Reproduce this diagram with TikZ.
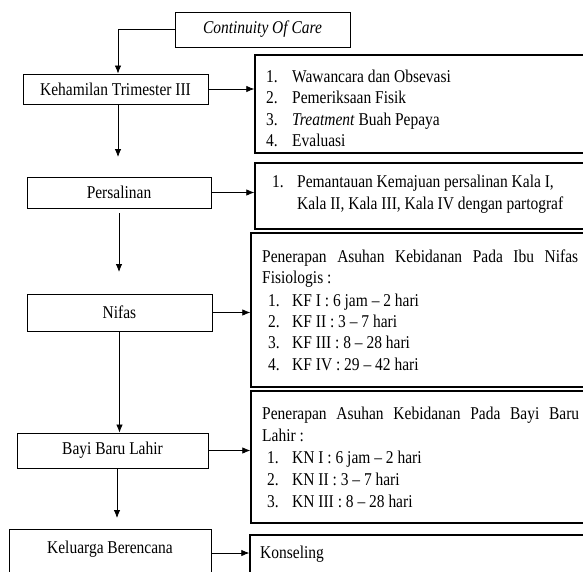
\documentclass[tikz,border=0pt]{standalone}
\usepackage{fontspec}
\setmainfont[FakeStretch=0.86]{Liberation Serif}
\usetikzlibrary{arrows.meta,calc}
\newcommand\myfs{\fontsize{18}{21}\selectfont}
\begin{document}
\begin{tikzpicture}[x=1pt,y=-1pt,
  lbox/.style={draw, line width=0.9pt, inner sep=0pt, font=\myfs},
  rbox/.style={draw, line width=1.4pt, inner sep=0pt},
  txt/.style={anchor=base west, inner sep=0pt, font=\myfs},
  arr/.style={line width=0.8pt, -{Latex[length=8pt,width=6.5pt]}}]
\useasboundingbox (0,0) rectangle (583,571);
\clip (0,0) rectangle (583,571);
% left column
\node[lbox, minimum width=175pt, minimum height=35pt] (coc) at (262.5,29.5) {\textit{Continuity Of Care}};
\node[lbox, minimum width=185pt, minimum height=30pt] (keh) at (115.5,89) {Kehamilan Trimester III};
\node[lbox, minimum width=184pt, minimum height=31pt] (per) at (119,192.5) {Persalinan};
\node[lbox, minimum width=185pt, minimum height=37pt] (nif) at (119.5,312.5) {Nifas};
\node[lbox, minimum width=191pt, minimum height=35pt] (bbl) at (112.5,450.5) {Bayi Baru Lahir};
\node[lbox, minimum width=202pt, minimum height=70pt] (kb) at (110,564) {};
\node[inner sep=0pt, font=\myfs] (kbt) at (110,549) {Keluarga Berencana};
% right boxes
\node[rbox, minimum width=345pt, minimum height=98pt] (r1) at (427.5,104) {};
\node[rbox, minimum width=345pt, minimum height=66pt] (r2) at (427.5,196) {};
\node[rbox, minimum width=349pt, minimum height=154pt] (r3) at (425.5,310) {};
\node[rbox, minimum width=349pt, minimum height=132pt] (r4) at (425.5,457) {};
\node[rbox, minimum width=350pt, minimum height=75pt] (r5) at (425,572.5) {};
% box 1 text
\node[txt] (a1n) at (266,82) {1.};
\node[txt] (a1) at (292,82) {Wawancara dan Obsevasi};
\node[txt] (a2n) at (266,103.5) {2.};
\node[txt] (a2) at (292,103.5) {Pemeriksaan Fisik};
\node[txt] (a3n) at (266,125) {3.};
\node[txt] (a3) at (292,125) {\textit{Treatment} Buah Pepaya};
\node[txt] (a4n) at (266,146) {4.};
\node[txt] (a4) at (292,146) {Evaluasi};
% box 2 text
\node[txt] (b1n) at (272,187) {1.};
\node[txt] (b1) at (297,187) {Pemantauan Kemajuan persalinan Kala I,};
\node[txt] (b2) at (297,209) {Kala II, Kala III, Kala IV dengan partograf};
% box 3 text
\node[txt] (c0) at (262,262) {\makebox[316pt][s]{Penerapan Asuhan Kebidanan Pada Ibu Nifas}};
\node[txt] (c0b) at (262,283.5) {Fisiologis :};
\node[txt] (c1n) at (268,306) {1.};
\node[txt] (c1) at (292,306) {KF I : 6 jam -- 2 hari};
\node[txt] (c2n) at (268,327) {2.};
\node[txt] (c2) at (292,327) {KF II : 3 -- 7 hari};
\node[txt] (c3n) at (268,348.5) {3.};
\node[txt] (c3) at (292,348.5) {KF III : 8 -- 28 hari};
\node[txt] (c4n) at (268,370) {4.};
\node[txt] (c4) at (292,370) {KF IV : 29 -- 42 hari};
% box 4 text
\node[txt] (d0) at (262,419) {\makebox[317pt][s]{Penerapan Asuhan Kebidanan Pada Bayi Baru}};
\node[txt] (d0b) at (262,441) {Lahir :};
\node[txt] (d1n) at (267,463) {1.};
\node[txt] (d1) at (292,463) {KN I : 6 jam -- 2 hari};
\node[txt] (d2n) at (267,485) {2.};
\node[txt] (d2) at (292,485) {KN II : 3 -- 7 hari};
\node[txt] (d3n) at (267,507) {3.};
\node[txt] (d3) at (292,507) {KN III : 8 -- 28 hari};
% box 5 text
\node[txt] (e1) at (260,558) {Konseling};
% connectors
\draw[arr] (coc.west) -| ([xshift=2.5pt]keh.north);
\coordinate (t1) at (118,157);
\draw[arr] ([xshift=2.5pt]keh.south) -- (t1);
\draw[arr] (keh.east) -- (keh.east -| r1.west);
\coordinate (t2) at (119,272);
\draw[arr] ([yshift=-5pt]per.south) -- (t2);
\draw[arr] (per.east) -- (per.east -| r2.west);
\draw[arr] (nif.south) -- (nif.south |- bbl.north);
\draw[arr] (nif.east) -- (nif.east -| r3.west);
\coordinate (t4) at (117,518);
\draw[arr] ([xshift=4.5pt]bbl.south) -- (t4);
\draw[arr] (bbl.east) -- (bbl.east -| r4.west);
\draw[arr] ([yshift=11pt]kb.east) -- ([yshift=11pt]kb.east -| r5.west);
\end{tikzpicture}
\end{document}
